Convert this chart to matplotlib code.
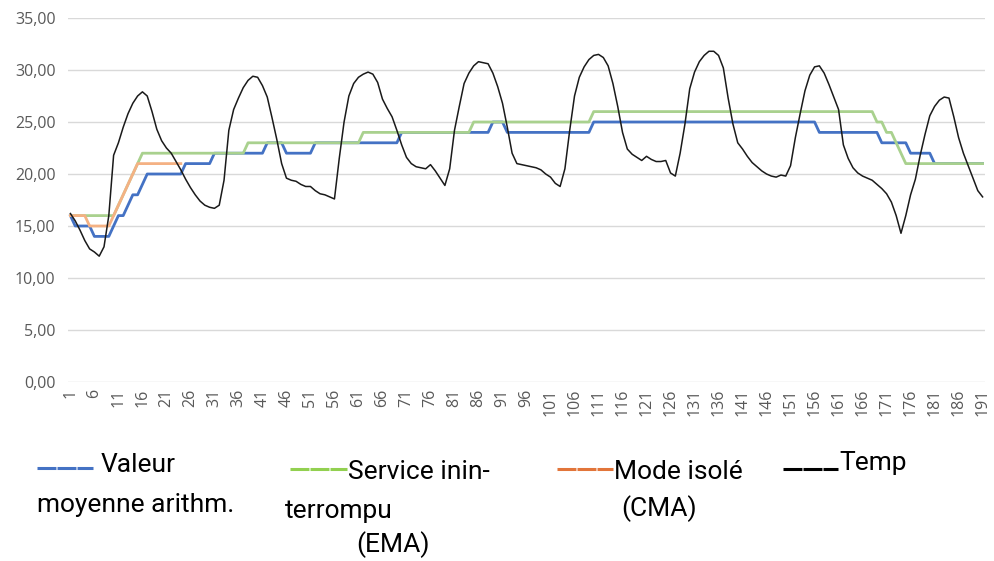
import matplotlib.pyplot as plt
from matplotlib.lines import Line2D
from matplotlib.ticker import FuncFormatter
import numpy as np

# hourly samples 1..191
idx = np.arange(1, 192)

temp = [16.2, 15.5, 14.6, 13.6, 12.8, 12.5, 12.1, 13.0, 16.0, 21.8,
        23.0, 24.5, 25.8, 26.8, 27.5, 27.9, 27.5, 26.0, 24.3, 23.2,
        22.5, 22.0, 21.2, 20.4, 19.5, 18.7, 18.0, 17.4, 17.0, 16.8,
        16.7, 17.0, 19.4, 24.2, 26.2, 27.3, 28.3, 29.0, 29.4, 29.3,
        28.5, 27.4, 25.4, 23.3, 21.0, 19.6, 19.4, 19.3, 19.0, 18.8,
        18.8, 18.4, 18.1, 18.0, 17.8, 17.6, 21.5, 25.0, 27.5, 28.7,
        29.3, 29.6, 29.8, 29.6, 28.8, 27.2, 26.3, 25.5, 24.2, 22.8,
        21.6, 21.0, 20.7, 20.6, 20.5, 20.9, 20.3, 19.6, 18.9, 20.5,
        24.2, 26.5, 28.7, 29.7, 30.4, 30.8, 30.7, 30.6, 29.7, 28.4,
        26.8, 24.5, 22.0, 21.0, 20.9, 20.8, 20.7, 20.6, 20.4, 20.0,
        19.7, 19.1, 18.8, 20.5, 24.2, 27.5, 29.3, 30.3, 31.0, 31.4,
        31.5, 31.2, 30.4, 28.7, 26.5, 24.0, 22.4, 21.9, 21.6, 21.3,
        21.7, 21.4, 21.2, 21.2, 21.3, 20.1, 19.8, 22.0, 24.8, 28.2,
        29.8, 30.8, 31.4, 31.8, 31.8, 31.4, 30.2, 27.3, 24.8, 23.0,
        22.4, 21.7, 21.1, 20.7, 20.3, 20.0, 19.8, 19.7, 19.9, 19.8,
        20.8, 23.5, 25.8, 28.0, 29.5, 30.3, 30.4, 29.7, 28.6, 27.4,
        26.2, 22.8, 21.5, 20.6, 20.1, 19.8, 19.6, 19.4, 19.0, 18.6,
        18.1, 17.3, 16.0, 14.3, 16.0, 18.0, 19.5, 21.8, 23.8, 25.6,
        26.5, 27.1, 27.4, 27.3, 25.5, 23.5, 22.0, 20.8, 19.6, 18.4, 17.8]

# setpoints as (level, number of samples)
sma_levels = [16, 15, 14, 15, 16, 17, 18, 19, 20, 21, 22, 23, 22, 23, 24, 25, 24, 25, 24, 23, 22, 21]
sma_counts = [1, 4, 4, 1, 2, 1, 2, 1, 8, 6, 11, 4, 6, 18, 19, 3, 18, 47, 13, 6, 5, 11]

ema_levels = [16, 17, 18, 19, 20, 21, 22, 23, 24, 25, 26, 25, 24, 23, 22, 21]
ema_counts = [10, 1, 1, 1, 1, 1, 22, 24, 23, 25, 59, 2, 2, 1, 1, 17]

cma_levels = [16, 15, 16, 17, 18, 19, 20, 21]
cma_counts = [4, 5, 1, 1, 1, 1, 1, 10]

sma = np.repeat(sma_levels, sma_counts).astype(float)
ema = np.repeat(ema_levels, ema_counts).astype(float)
cma = np.full(len(idx), np.nan)
cma_vals = np.repeat(cma_levels, cma_counts)
cma[:len(cma_vals)] = cma_vals

fig = plt.figure(figsize=(9.95, 5.61), dpi=100)
ax = fig.add_axes([68/995, 1-382/561, (985-68)/995, (382-18)/561])

ax.plot(idx, sma, color='#4472C4', lw=2.0, zorder=3)
ax.plot(idx, ema, color='#A9D18E', lw=2.0, zorder=4)
ax.plot(idx, cma, color='#F4B183', lw=2.0, zorder=5)
ax.plot(idx, temp, color='#1a1a1a', lw=1.1, zorder=6)

ax.set_xlim(0.5, 191.5)
ax.set_ylim(0, 35)
ax.set_yticks(np.arange(0, 36, 5))
ax.yaxis.set_major_formatter(FuncFormatter(lambda v, p: f'{v:.2f}'.replace('.', ',')))
ax.set_xticks(idx[::5])
ax.set_xticklabels([str(i) for i in idx[::5]], rotation=90)
ax.tick_params(axis='both', length=0, colors='#595959', labelsize=11.5)
for t in ax.get_xticklabels() + ax.get_yticklabels():
    t.set_family(['Open Sans', 'DejaVu Sans'])
ax.tick_params(axis='x', pad=5)
ax.tick_params(axis='y', pad=9)
ax.grid(axis='y', color='#d9d9d9', lw=1.0)
ax.set_axisbelow(True)
for s in ax.spines.values():
    s.set_visible(False)

# legend laid out by hand under the plot
fam = ['Roboto', 'DejaVu Sans']
def px(x, y):
    return x/995, 1 - y/561

def handle(x0, x1, y, color):
    xa, ya = px(x0, y)
    xb, _ = px(x1, y)
    fig.add_artist(Line2D([xa, xb], [ya, ya], color=color, lw=2.2,
                          dashes=(6.2, 0.35), transform=fig.transFigure))

def label(x, y, s):
    fig.text(*px(x, y), s, fontsize=19, family=fam, va='baseline', ha='left', color='black')

handle(37, 93, 468, '#4472C4')
label(101, 472, 'Valeur')
label(37, 512, 'moyenne arithm.')

handle(290, 347, 469, '#92D050')
label(348, 479, 'Service inin-')
label(285, 518, 'terrompu')
label(356, 552, '(EMA)')

handle(557, 613, 469, '#E2753A')
label(614, 479, 'Mode isolé')
label(621, 516, '(CMA)')

handle(783, 838, 469, '#000000')
label(839, 470, 'Temp')

fig.savefig('out.png', dpi=100)
